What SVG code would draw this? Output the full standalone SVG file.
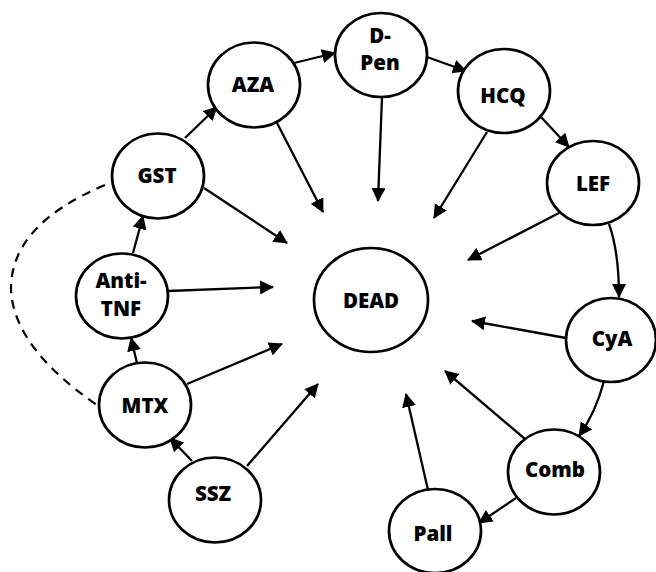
<svg xmlns="http://www.w3.org/2000/svg" width="656" height="572" viewBox="0 0 656 572">
<style>
.node ellipse{fill:#fff;stroke:#000;stroke-width:2.7}
.node text{font-family:"Open Sans","Liberation Sans",sans-serif;font-weight:800;font-size:20.5px;text-anchor:middle;fill:#000}
.edge{fill:none;stroke:#000;stroke-width:2.3;marker-end:url(#ah)}
.dash{fill:none;stroke:#000;stroke-width:2.2;stroke-dasharray:9 7}
</style>
<defs>
<marker id="ah" markerUnits="userSpaceOnUse" markerWidth="16" markerHeight="16" refX="13" refY="7" orient="auto">
<path d="M0,0 L14,7 L0,14 z" fill="#000"/>
</marker>
</defs>
<rect width="656" height="572" fill="#fff"/>
<g id="connectors">
<path class="dash" d="M105,185 Q10,225 11,290 Q14,348 97,405"/>
<path class="edge" d="M294,63 L335,53"/>
<path class="edge" d="M427,57 L466,71"/>
<path class="edge" d="M541,117 L569,147"/>
<path class="edge" d="M609,224 Q619,252 619,297"/>
<path class="edge" d="M604,381 Q596,412 579,436"/>
<path class="edge" d="M516,498 L479,523"/>
<path class="edge" d="M192,461 L170,438"/>
<path class="edge" d="M137,363 L131,338"/>
<path class="edge" d="M133,253 L143,216"/>
<path class="edge" d="M185,138 L217,107"/>
<path class="edge" d="M277,123 L323,212"/>
<path class="edge" d="M204,188 L287,243"/>
<path class="edge" d="M382,97 L378,201"/>
<path class="edge" d="M487,132 L434,218"/>
<path class="edge" d="M559,213 L468,260"/>
<path class="edge" d="M168,291 L273,287"/>
<path class="edge" d="M566,338 L472,321"/>
<path class="edge" d="M525,439 L445,371"/>
<path class="edge" d="M428,490 L406,394"/>
<path class="edge" d="M187,384 L282,344"/>
<path class="edge" d="M247,466 L318,384"/>
</g>
<g id="node-DEAD" class="node"><ellipse cx="371" cy="300" rx="57" ry="52"/><text x="371" y="308">DEAD</text></g>
<g id="node-AZA" class="node"><ellipse cx="254" cy="85" rx="46" ry="42.5"/><text x="253" y="92">AZA</text></g>
<g id="node-DPen" class="node"><ellipse cx="381" cy="55" rx="46" ry="42"/><text x="380" y="43">D-</text><text x="380" y="70">Pen</text></g>
<g id="node-HCQ" class="node"><ellipse cx="504" cy="91" rx="46" ry="42"/><text x="503" y="103">HCQ</text></g>
<g id="node-LEF" class="node"><ellipse cx="593" cy="183" rx="46" ry="42"/><text x="593" y="191">LEF</text></g>
<g id="node-CyA" class="node"><ellipse cx="611" cy="340" rx="45" ry="42"/><text x="612" y="346">CyA</text></g>
<g id="node-Comb" class="node"><ellipse cx="554" cy="472" rx="46" ry="42.5"/><text x="555" y="477">Comb</text></g>
<g id="node-Pall" class="node"><ellipse cx="435" cy="531" rx="46" ry="42"/><text x="433" y="541">Pall</text></g>
<g id="node-SSZ" class="node"><ellipse cx="215" cy="500" rx="46" ry="42.5"/><text x="213" y="501">SSZ</text></g>
<g id="node-MTX" class="node"><ellipse cx="145" cy="405" rx="46" ry="42.5"/><text x="145" y="413">MTX</text></g>
<g id="node-AntiTNF" class="node"><ellipse cx="122" cy="296" rx="46" ry="42.5"/><text x="121" y="288">Anti-</text><text x="121" y="316">TNF</text></g>
<g id="node-GST" class="node"><ellipse cx="158" cy="176" rx="46" ry="42.5"/><text x="157" y="183">GST</text></g>
</svg>
